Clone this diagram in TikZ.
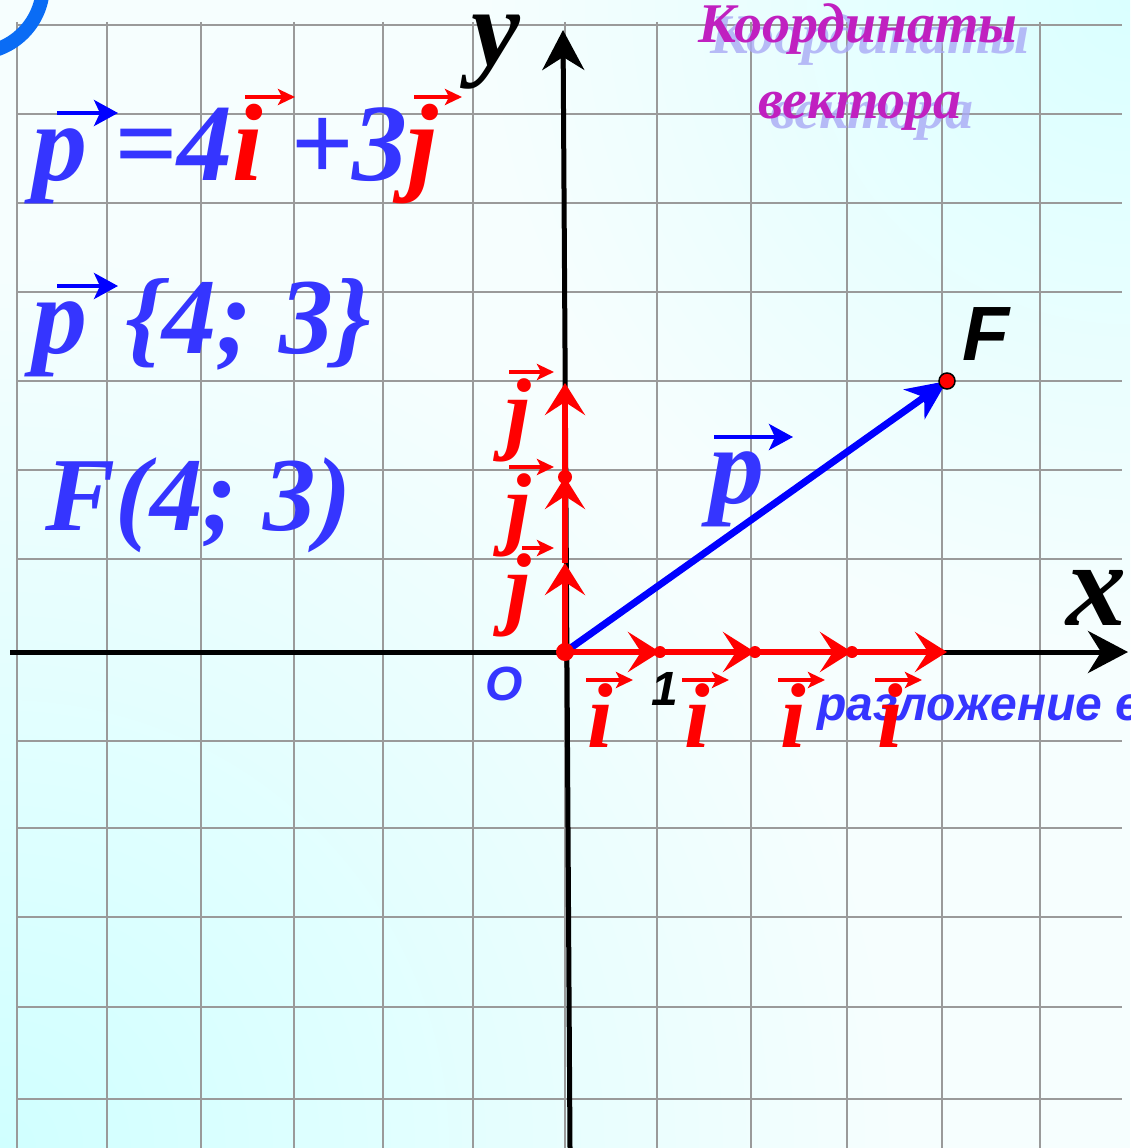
\documentclass[tikz,border=0pt]{standalone}
\usepackage{fontspec}
\setmainfont{Liberation Serif}
\newfontfamily\sansf{Liberation Sans}
\usetikzlibrary{arrows.meta}
\definecolor{tblue}{HTML}{3535FF}
\definecolor{vblue}{HTML}{0000FF}
\definecolor{vred}{HTML}{FF0000}
\definecolor{gridc}{HTML}{9A9A9A}
\definecolor{bgc}{HTML}{D0FFFF}
\definecolor{bgctwo}{HTML}{DAFFFF}
\definecolor{bgw}{HTML}{F6FEFE}
\definecolor{titc}{HTML}{C020C0}
\definecolor{shadc}{HTML}{A9A9F5}
\definecolor{arcc}{HTML}{0A6CF5}
\tikzset{
  gridline/.style={draw=gridc, line width=2pt},
  axisline/.style={draw=black, line width=5pt, -{Stealth[length=40pt,width=42pt,inset=13pt]}},
  redvec/.style={draw=vred, line width=6pt, -{Stealth[length=32pt,width=40pt,inset=13pt]}},
  bluevec/.style={draw=vblue, line width=7pt, -{Stealth[length=40pt,width=36pt,inset=12pt]}},
  smallred/.style={draw=vred, line width=3.5pt, -{Stealth[length=17pt,width=16pt,inset=4pt]}},
  smallblue/.style={draw=vblue, line width=4pt, -{Stealth[length=24pt,width=26pt,inset=6pt]}},
  txt/.style={inner sep=0pt, outer sep=0pt},
  serifbig/.style={txt, font=\fontsize{#1}{#1}\selectfont\bfseries\itshape},
  sansbig/.style={txt, font=\fontsize{#1}{#1}\selectfont\sansf\bfseries\itshape},
  reddot/.style={fill=vred},
}
\begin{document}
\begin{tikzpicture}[x=1pt,y=-1pt]
\useasboundingbox (0,0) rectangle (1130,1148);
% background
\fill[bgw] (0,0) rectangle (1130,1148);
\begin{scope}
  \clip (0,0) rectangle (1130,1148);
  \shade[inner color=bgc, outer color=bgw] (0,1148) circle[radius=900];
  \shade[inner color=bgctwo, outer color=bgw] (1130,0) circle[radius=650];
\end{scope}
% grid
\foreach \gx in {17,107,201,294,383,473,565,657,751,847,942,1040}
  \draw[gridline] (\gx,22) -- (\gx,1148);
\foreach \gy in {25,114,203,292,381,470,559,741,828,917,1007,1099}
  \draw[gridline] (17,\gy) -- (1122,\gy);
% corner arc
\draw[draw=arcc, line width=14pt] (-25,-15) circle[radius=68];
% coordinates
\coordinate (O) at (565,652);
\coordinate (X1) at (660,652);
\coordinate (X2) at (755,652);
\coordinate (X3) at (852,652);
\coordinate (X4) at (947,652);
\coordinate (Y1) at (565,563);
\coordinate (Y2) at (565,477);
\coordinate (Y3) at (565,383);
\coordinate (F) at (947,381);
\coordinate (xl) at (10,652);
\coordinate (xr) at (1128,652);
\coordinate (yb) at (570,1148);
\coordinate (yt) at (563,30);
% axes
\draw[axisline] (xl) -- (xr);
\draw[axisline] (yb) -- (yt);
% vector p
\draw[bluevec] (O) -- (F);
% unit vectors
\draw[redvec] (O) -- (X1);
\draw[redvec] (X1) -- (X2);
\draw[redvec] (X2) -- (X3);
\draw[redvec] (X3) -- (X4);
\draw[redvec] (O) -- (Y1);
\draw[redvec] (Y1) -- (Y2);
\draw[redvec] (Y2) -- (Y3);
% dots
\fill[reddot] (X1) circle[radius=6];
\fill[reddot] (X2) circle[radius=6];
\fill[reddot] (X3) circle[radius=6];
\fill[reddot] (Y2) circle[radius=7];
\fill[reddot] (O) circle[radius=9];
\filldraw[fill=vred, draw=black, line width=1.5pt] (F) circle[radius=8];
% title
\node[serifbig=56, text=shadc, anchor=base, opacity=0.8] (t1s) at (870,53) {Координаты};
\node[serifbig=56, text=shadc, anchor=base, opacity=0.8] (t2s) at (872,128) {вектора};
\node[serifbig=56, text=titc, anchor=base] (t1) at (858,43) {Координаты};
\node[serifbig=56, text=titc, anchor=base] (t2) at (860,118) {вектора};
% formulas
\node[serifbig=110, anchor=base west] (f1) at (32,180)
  {\textcolor{tblue}{p =4}\textcolor{vred}{i} \textcolor{tblue}{+3}\textcolor{vred}{j}};
\draw[smallblue] (57,113) -- (118,113);
\draw[smallred] (245,97) -- (295,97);
\draw[smallred] (414,97) -- (462,97);
\node[serifbig=110, anchor=base west, text=tblue] (f2p) at (32,353) {p};
\node[serifbig=108, anchor=base west, text=tblue] (f2c) at (125,353) {\{4; 3\}};
\draw[smallblue] (57,286) -- (118,286);
\node[serifbig=105, anchor=base west, text=tblue] (f3) at (45,530) {F(4; 3)};
% axis labels
\node[serifbig=110, anchor=base, text height=52pt, text depth=24pt] (ylab) at (496,66) {y};
\node[serifbig=120, anchor=base] (xlab) at (1096,625) {x};
\node[sansbig=48, anchor=base west, text=tblue] (olab) at (485,700) {O};
\node[sansbig=48, anchor=base west] (onelab) at (651,705) {1};
\node[sansbig=77, anchor=base west] (flab) at (962,360) {F};
% p label
\node[serifbig=110, anchor=base, text=tblue] (plab) at (737,503) {p};
\draw[smallblue] (714,437) -- (793,437);
% decomposition text
\node[sansbig=48, anchor=base west, text=tblue] (razl) at (817,720) {разложение е};
% i labels
\node[serifbig=92, anchor=base, text=vred] (i1) at (600,747) {i};
\node[serifbig=92, anchor=base, text=vred] (i2) at (697,747) {i};
\node[serifbig=92, anchor=base, text=vred] (i3) at (793,747) {i};
\node[serifbig=92, anchor=base, text=vred] (i4) at (890,747) {i};
\draw[smallred] (586,680) -- (633,680);
\draw[smallred] (682,680) -- (729,680);
\draw[smallred] (778,680) -- (825,680);
\draw[smallred] (875,680) -- (922,680);
% j labels
\node[serifbig=92, anchor=base, text=vred] (j1) at (518,442) {j};
\node[serifbig=92, anchor=base, text=vred] (j2) at (518,537) {j};
\node[serifbig=92, anchor=base, text=vred] (j3) at (518,617) {j};
\draw[smallred] (509,372) -- (554,372);
\draw[smallred] (509,467) -- (554,467);
\draw[smallred] (522,548) -- (554,548);
\end{tikzpicture}
\end{document}
